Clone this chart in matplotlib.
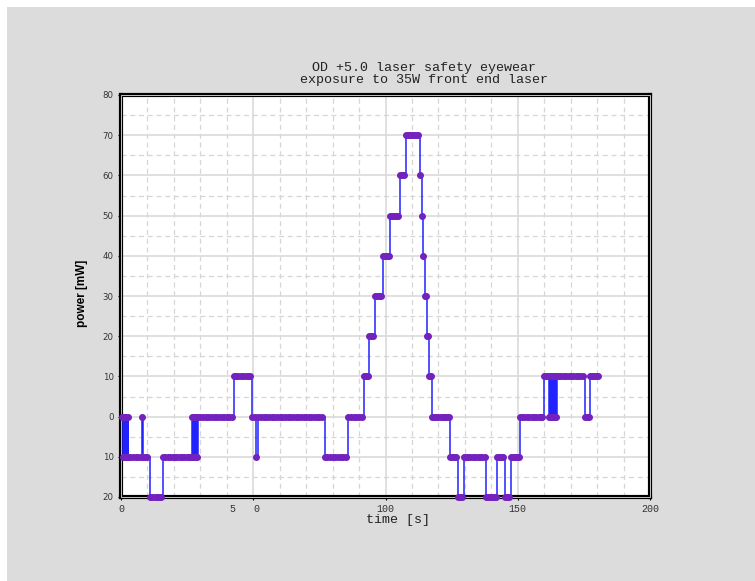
import matplotlib.pyplot as plt
from matplotlib.patches import Rectangle
from matplotlib.ticker import MultipleLocator, FuncFormatter

# power meter readings behind the OD +5.0 eyewear
time_s = [
    0.5, 0.75, 1.0, 1.25, 1.5, 1.75, 2.0, 2.25, 2.5, 2.75,
    3.5, 4.5, 5.5, 6.5, 7.5, 8.1, 8.4, 9.2, 10.0,
    10.9, 11.8, 12.7, 13.6, 14.5, 15.3,
    15.9, 16.8, 17.7, 18.6, 19.5, 20.4, 21.3, 22.2, 23.1, 24.0, 24.9, 25.8, 26.6,
    27.0, 27.25, 27.5, 27.75, 28.0, 28.25, 28.5, 28.75,
    29.2, 30, 31, 32, 33, 34, 35, 36, 37, 38, 39, 40, 41, 42,
    42.7, 43.5, 44.4, 45.3, 46.2, 47.1, 48.0, 48.9,
    49.7, 50.6, 51.2, 51.9,
    53, 54, 55, 56, 57, 58, 59, 60, 61, 62, 63, 64, 65, 66, 67, 68, 69, 70,
    71, 72, 73, 74, 75, 76,
    77, 78, 79, 80, 81, 82, 83, 84, 85,
    86, 87, 88, 89, 90, 91,
    91.8, 92.6, 93.4,
    93.8, 94.6, 95.4,
    96.0, 96.8, 97.6, 98.4,
    99.0, 99.8, 100.6, 101.2,
    101.6, 102.4, 103.2, 104.0, 104.8,
    105.5, 106.3, 107.1,
    107.6, 108.4, 109.2, 110.0, 110.8, 111.6, 112.4,
    113.0, 113.7, 114.3, 114.8, 115.3, 115.8, 116.2, 116.6, 117.2,
    117.6, 118.4, 119.2, 120.0, 120.8, 121.6, 122.4, 123.2, 124.0,
    124.4, 125.2, 126.0, 126.8,
    127.5, 128.3, 129.1,
    129.5, 130.3, 131.2, 132.1, 133.0, 133.9, 134.8, 135.7, 136.6, 137.5,
    137.9, 138.7, 139.5, 140.3, 141.1, 141.8,
    142.1, 142.9, 143.7, 144.5,
    145.1, 145.9, 146.8,
    147.3, 148.1, 148.9, 149.7, 150.4,
    150.8, 151.6, 152.5, 153.4, 154.3, 155.2, 156.1, 157.0, 157.9, 158.8, 159.3,
    159.8, 160.6, 161.4,
    161.9, 162.2, 162.5, 162.8, 163.1, 163.4, 163.7, 164.0, 164.3,
    164.8, 165.6, 166.5, 167.4, 168.3, 169.2, 170.1, 171.0, 171.9, 172.8, 173.7, 174.6,
    175.5, 176.2, 176.8,
    177.2, 178.0, 178.8, 179.6, 180.4,
]
power_mw = [
    0, -10, 0, -10, 0, -10, 0, -10, 0, -10,
    -10, -10, -10, -10, -10, 0, -10, -10, -10,
    -20, -20, -20, -20, -20, -20,
    -10, -10, -10, -10, -10, -10, -10, -10, -10, -10, -10, -10, -10,
    0, -10, 0, -10, 0, -10, 0, -10,
    0, 0, 0, 0, 0, 0, 0, 0, 0, 0, 0, 0, 0, 0,
    10, 10, 10, 10, 10, 10, 10, 10,
    0, 0, -10, 0,
    0, 0, 0, 0, 0, 0, 0, 0, 0, 0, 0, 0, 0, 0, 0, 0, 0, 0,
    0, 0, 0, 0, 0, 0,
    -10, -10, -10, -10, -10, -10, -10, -10, -10,
    0, 0, 0, 0, 0, 0,
    10, 10, 10,
    20, 20, 20,
    30, 30, 30, 30,
    40, 40, 40, 40,
    50, 50, 50, 50, 50,
    60, 60, 60,
    70, 70, 70, 70, 70, 70, 70,
    60, 50, 40, 30, 30, 20, 20, 10, 10,
    0, 0, 0, 0, 0, 0, 0, 0, 0,
    -10, -10, -10, -10,
    -20, -20, -20,
    -10, -10, -10, -10, -10, -10, -10, -10, -10, -10,
    -20, -20, -20, -20, -20, -20,
    -10, -10, -10, -10,
    -20, -20, -20,
    -10, -10, -10, -10, -10,
    0, 0, 0, 0, 0, 0, 0, 0, 0, 0, 0,
    10, 10, 10,
    0, 10, 0, 10, 0, 10, 0, 10, 0,
    10, 10, 10, 10, 10, 10, 10, 10, 10, 10, 10, 10,
    0, 0, 0,
    10, 10, 10, 10, 10,
]

x_ticks = [0, 50, 100, 150, 200]
x_tick_labels = ['0', '', '100', '150', '200']
y_ticks = [-20, -10, 0, 10, 20, 30, 40, 50, 60, 70, 80]

W, H = 755, 581
fig = plt.figure(figsize=(W / 100, H / 100), dpi=100)
fig.patch.set_facecolor('white')
fig.add_artist(Rectangle((7 / W, 0), 1, 1 - 7 / H, transform=fig.transFigure,
                         facecolor='#dcdcdc', edgecolor='none', zorder=-10))

ax = fig.add_axes([121 / W, 84 / H, 529 / W, 402 / H])
ax.set_facecolor('white')

ax.plot(time_s, power_mw, drawstyle='steps-post', color='#2222ff', lw=1.1,
        zorder=4, clip_on=False)
ax.plot(time_s, power_mw, ls='none', marker='o', ms=4, color='#7322bd',
        mec='#7322bd', zorder=5, clip_on=False)

ax.set_xlim(0, 200)
ax.set_ylim(-20, 80)
ax.set_xticks(x_ticks)
ax.set_xticklabels(x_tick_labels)
ax.set_yticks(y_ticks)
ax.yaxis.set_major_formatter(FuncFormatter(lambda v, pos: f'{abs(v):.0f}'))
ax.xaxis.set_minor_locator(MultipleLocator(10))
ax.yaxis.set_minor_locator(MultipleLocator(5))

ax.set_axisbelow(True)
ax.grid(which='major', color='#dadada', lw=1.2, ls='-')
ax.grid(which='minor', color='#d6d6d6', lw=0.9, ls=(0, (4, 3)))
ax.tick_params(which='minor', length=0)
ax.tick_params(which='major', direction='out', length=2.2, width=0.8,
               color='black', labelcolor='#333333', pad=3)
for lab in ax.get_xticklabels():
    lab.set_fontfamily('Liberation Mono')
    lab.set_fontsize(7.2)
for lab in ax.get_yticklabels():
    lab.set_fontfamily('DejaVu Sans')
    lab.set_fontsize(6.2)

# odd split label under the 50 s tick, as in the original
ax.annotate('5   0', xy=(50, 0), xycoords=('data', 'axes fraction'),
            xytext=(-8, -7), textcoords='offset pixels', ha='center', va='top',
            family='Liberation Mono', fontsize=7.2, color='#333333')

for sp in ax.spines.values():
    sp.set_linewidth(3)
    sp.set_color('black')
    sp.set_zorder(3)
ax.add_patch(Rectangle((0, 0), 1, 1, transform=ax.transAxes, fill=False,
                       ec='#e0e0e0', lw=0.6, clip_on=False, zorder=3.5))

fig.text(424.5 / W, 1 - 68 / H, 'OD +5.0 laser safety eyewear', ha='center',
         va='center', family='Liberation Mono', fontsize=9.6, color='#222222')
fig.text(424.5 / W, 1 - 80.5 / H, 'exposure to 35W front end laser', ha='center',
         va='center', family='Liberation Mono', fontsize=9.6, color='#222222')
fig.text(398 / W, 1 - 520 / H, 'time [s]', ha='center', va='center',
         family='Liberation Mono', fontsize=9.6, color='#222222')
fig.text(82 / W, 1 - 293 / H, 'power [mW]', rotation=90, ha='center', va='center',
         family='Liberation Sans', fontweight='bold', fontsize=8.5, color='black')

fig.savefig('out.png', dpi=100)
